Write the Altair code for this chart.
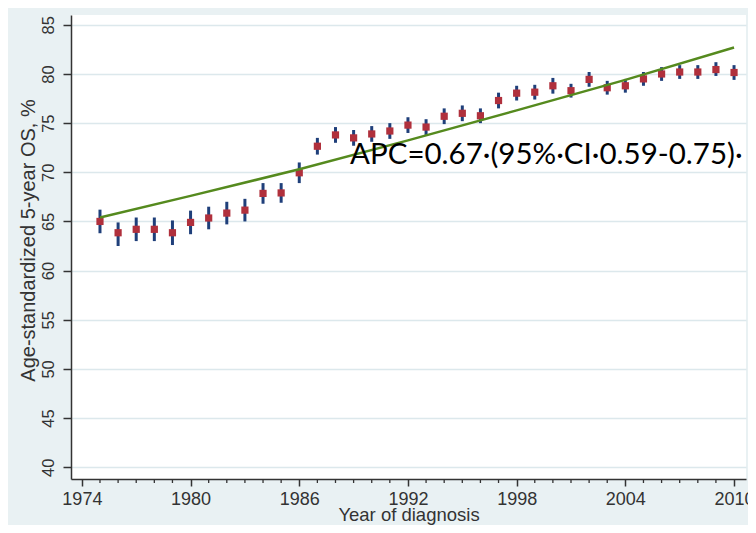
import altair as alt
import pandas as pd

# ---- data ----
years = [1975, 1976, 1977, 1978, 1979, 1980, 1981, 1982, 1983, 1984, 1985, 1986,
         1987, 1988, 1989, 1990, 1991, 1992, 1993, 1994, 1995, 1996, 1997, 1998,
         1999, 2000, 2001, 2002, 2003, 2004, 2005, 2006, 2007, 2008, 2009, 2010]
os_rate = [65.0, 63.85, 64.2, 64.2, 63.85, 64.9, 65.35, 65.85, 66.15, 67.85, 67.9, 69.95,
           72.65, 73.8, 73.5, 73.9, 74.2, 74.8, 74.6, 75.7, 76.0, 75.75, 77.3, 78.05,
           78.15, 78.8, 78.3, 79.45, 78.6, 78.8, 79.5, 80.0, 80.2, 80.2, 80.45, 80.15]
ci_low = [63.8, 62.5, 63.0, 63.0, 62.6, 63.7, 64.2, 64.7, 65.0, 66.8, 66.9, 68.9,
          71.8, 73.0, 72.7, 73.1, 73.4, 74.0, 73.8, 74.9, 75.2, 75.0, 76.5, 77.3,
          77.4, 78.0, 77.6, 78.7, 77.9, 78.1, 78.8, 79.3, 79.5, 79.5, 79.8, 79.4]
ci_high = [66.2, 64.9, 65.4, 65.4, 65.1, 66.1, 66.5, 67.0, 67.3, 68.9, 68.9, 71.0,
           73.5, 74.6, 74.3, 74.7, 75.0, 75.6, 75.4, 76.5, 76.8, 76.5, 78.1, 78.8,
           78.9, 79.6, 79.0, 80.2, 79.3, 79.5, 80.2, 80.7, 80.9, 80.9, 81.2, 80.9]

fit_years = [1975, 1980, 1986, 1992, 1998, 2004, 2010]
fit_values = [65.4, 67.6, 70.3, 73.25, 76.3, 79.4, 82.7]

x_major = [1974, 1980, 1986, 1992, 1998, 2004, 2010]
x_minor = [y for y in range(1974, 2011) if y not in x_major]
y_ticks = [40, 45, 50, 55, 60, 65, 70, 75, 80, 85]

annotation = "APC=0.67\u00b7(95%\u00b7CI\u00b70.59-0.75)\u00b7"
ann_year = 1988.8
ann_value = 70.85

# ---- tables ----
df = pd.DataFrame({"year": years, "os": os_rate, "lo": ci_low, "hi": ci_high})
fit = pd.DataFrame({"year": fit_years, "fit": fit_values})
minor = pd.DataFrame({"year": x_minor})
ann = pd.DataFrame({"year": [ann_year], "val": [ann_value], "txt": [annotation]})

W, H = 675, 464
font = "'Liberation Sans', Arial, sans-serif"

x_scale = alt.Scale(domain=[1973.4, 2010.66], nice=False, zero=False)
y_scale = alt.Scale(domain=[38.8, 86.0], nice=False, zero=False)

x_axis = alt.Axis(values=x_major, format="d", grid=False,
                  domainColor="#333333", domainWidth=1.5,
                  tickColor="#333333", tickWidth=1.5, tickSize=7,
                  labelFont=font, labelFontSize=18, labelColor="#333333",
                  labelPadding=4, labelBaseline="top",
                  title="Year of diagnosis", titleFont=font, titleFontSize=18.5,
                  titleFontWeight="normal", titleColor="#333333",
                  titleBaseline="alphabetic", titleY=41)
y_axis = alt.Axis(values=y_ticks, grid=True, gridColor="#dce8ec", gridWidth=1.5,
                  domainColor="#333333", domainWidth=1.5,
                  tickColor="#333333", tickWidth=1.5, tickSize=8,
                  labelFont=font, labelFontSize=16.5, labelColor="#333333",
                  labelAngle=270, labelAlign="center", labelBaseline="alphabetic",
                  labelPadding=10,
                  title="Age-standardized 5-year OS, %", titleFont=font,
                  titleFontSize=20, titleFontWeight="normal", titleColor="#333333",
                  titleAngle=270, titleAlign="center", titleBaseline="alphabetic",
                  titleX=-37, titleY=225)

bars = alt.Chart(df).mark_rule(color="#1f3f7a", strokeWidth=3).encode(
    x=alt.X("year:Q", scale=x_scale, axis=x_axis),
    y=alt.Y("lo:Q", scale=y_scale, axis=y_axis),
    y2="hi:Q",
)
points = alt.Chart(df).mark_square(color="#b0303c", size=52, opacity=1).encode(
    x="year:Q", y="os:Q"
)
trend = alt.Chart(fit).mark_line(color="#558a1e", strokeWidth=2.5).encode(
    x="year:Q", y="fit:Q"
)
minor_ticks = alt.Chart(minor).mark_rule(color="#333333", strokeWidth=1.3).encode(
    x="year:Q", y=alt.value(H), y2=alt.value(H + 4)
)
label = alt.Chart(ann).mark_text(font="Lato", fontSize=29.5, align="left",
                                 baseline="alphabetic", color="#000000").encode(
    x="year:Q", y="val:Q", text="txt:N"
)

chart = alt.layer(bars, points, trend, minor_ticks, label).properties(
    width=W, height=H,
    background="#e9f1f3",
    padding={"left": 63, "top": 7, "right": 2, "bottom": 46},
    autosize=alt.AutoSizeParams(type="none"),
).configure_view(fill="white", strokeWidth=0)

chart.save("out.html", embed_options={"renderer": "svg", "actions": False})
